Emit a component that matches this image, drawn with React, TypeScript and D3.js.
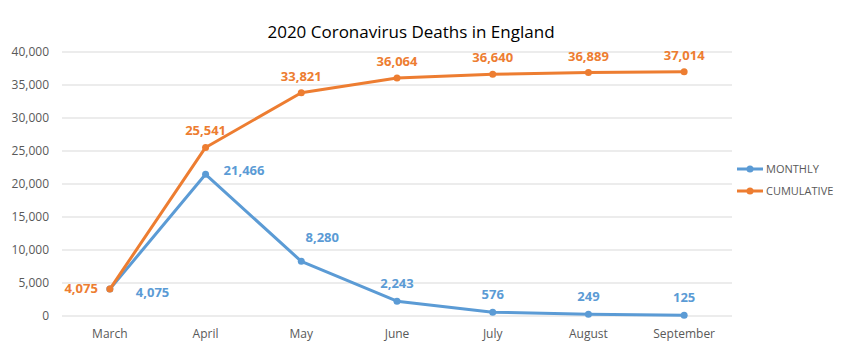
import React from 'react';
import * as d3 from 'd3';

const months = ['March', 'April', 'May', 'June', 'July', 'August', 'September'];
const monthly = [4075, 21466, 8280, 2243, 576, 249, 125];
const cumulative = [4075, 25541, 33821, 36064, 36640, 36889, 37014];
const yTicks = [0, 5000, 10000, 15000, 20000, 25000, 30000, 35000, 40000];
const seriesNames = ['MONTHLY', 'CUMULATIVE'];

const BLUE = '#5b9bd5';
const ORANGE = '#ed7d31';
const FONT = '"Open Sans", "Liberation Sans", sans-serif';

const W = 842;
const H = 350;
const margin = { top: 52, right: 110, bottom: 34, left: 62 };

const App = () => {
  const x = d3.scaleBand<string>()
    .domain(months)
    .range([margin.left, W - margin.right]);
  const y = d3.scaleLinear()
    .domain([0, 40000])
    .range([H - margin.bottom, margin.top]);

  const cx = (m: string) => (x(m) ?? 0) + x.bandwidth() / 2;
  const fmt = d3.format(',');

  const line = d3.line<number>()
    .x((_, i) => cx(months[i]))
    .y(d => y(d));

  // label offsets (dx, dy from point to baseline, anchor)
  const monthlyLabelPos = (i: number) => {
    if (i === 0) return { dx: 26, dy: 8, anchor: 'start' };
    if (i === 1) return { dx: 18, dy: 1, anchor: 'start' };
    if (i === 2) return { dx: 21, dy: -19, anchor: 'middle' };
    return { dx: 0, dy: -13, anchor: 'middle' };
  };
  const cumLabelPos = (i: number) => {
    if (i === 0) return { dx: -12, dy: 4, anchor: 'end' };
    return { dx: 0, dy: -12, anchor: 'middle' };
  };

  const series = [
    { name: seriesNames[0], values: monthly, color: BLUE, pos: monthlyLabelPos },
    { name: seriesNames[1], values: cumulative, color: ORANGE, pos: cumLabelPos },
  ];

  return (
    <div style={{ margin: -8 }}>
      <svg width={W} height={H} style={{ fontFamily: FONT, background: '#fff', display: 'block' }}>
        <text x={411} y={38} textAnchor="middle" fontSize={17} fill="#000">
          2020 Coronavirus Deaths in England
        </text>

        {/* gridlines + y labels */}
        {yTicks.map(t => (
          <g key={t}>
            <line x1={margin.left} x2={W - margin.right} y1={y(t)} y2={y(t)} stroke="#d9d9d9" strokeWidth={1} />
            <text x={49} y={y(t) + 4} textAnchor="end" fontSize={12} fill="#595959">{fmt(t)}</text>
          </g>
        ))}

        {/* x labels */}
        {months.map(m => (
          <text key={m} x={cx(m)} y={H - margin.bottom + 22} textAnchor="middle" fontSize={12} fill="#595959">{m}</text>
        ))}

        {/* lines */}
        {series.map(s => (
          <g key={s.name}>
            <path d={line(s.values) ?? ''} fill="none" stroke={s.color} strokeWidth={3} strokeLinejoin="round" />
            {s.values.map((v, i) => (
              <circle key={i} cx={cx(months[i])} cy={y(v)} r={3.5} fill={s.color} />
            ))}
          </g>
        ))}

        {/* data labels */}
        {series.map(s => (
          <g key={`lab-${s.name}`}>
            {s.values.map((v, i) => {
              const p = s.pos(i);
              return (
                <text
                  key={i}
                  x={cx(months[i]) + p.dx}
                  y={y(v) + p.dy}
                  textAnchor={p.anchor}
                  fontSize={13}
                  fontWeight="bold"
                  fill={s.color}
                >
                  {fmt(v)}
                </text>
              );
            })}
          </g>
        ))}

        {/* legend */}
        {series.map((s, i) => (
          <g key={`leg-${s.name}`} transform={`translate(737, ${169 + i * 22})`}>
            <line x1={0} x2={26} y1={0} y2={0} stroke={s.color} strokeWidth={3} />
            <circle cx={13} cy={0} r={3.5} fill={s.color} />
            <text x={29} y={4} fontSize={11} fill="#595959">{s.name}</text>
          </g>
        ))}
      </svg>
    </div>
  );
};

export default App;
